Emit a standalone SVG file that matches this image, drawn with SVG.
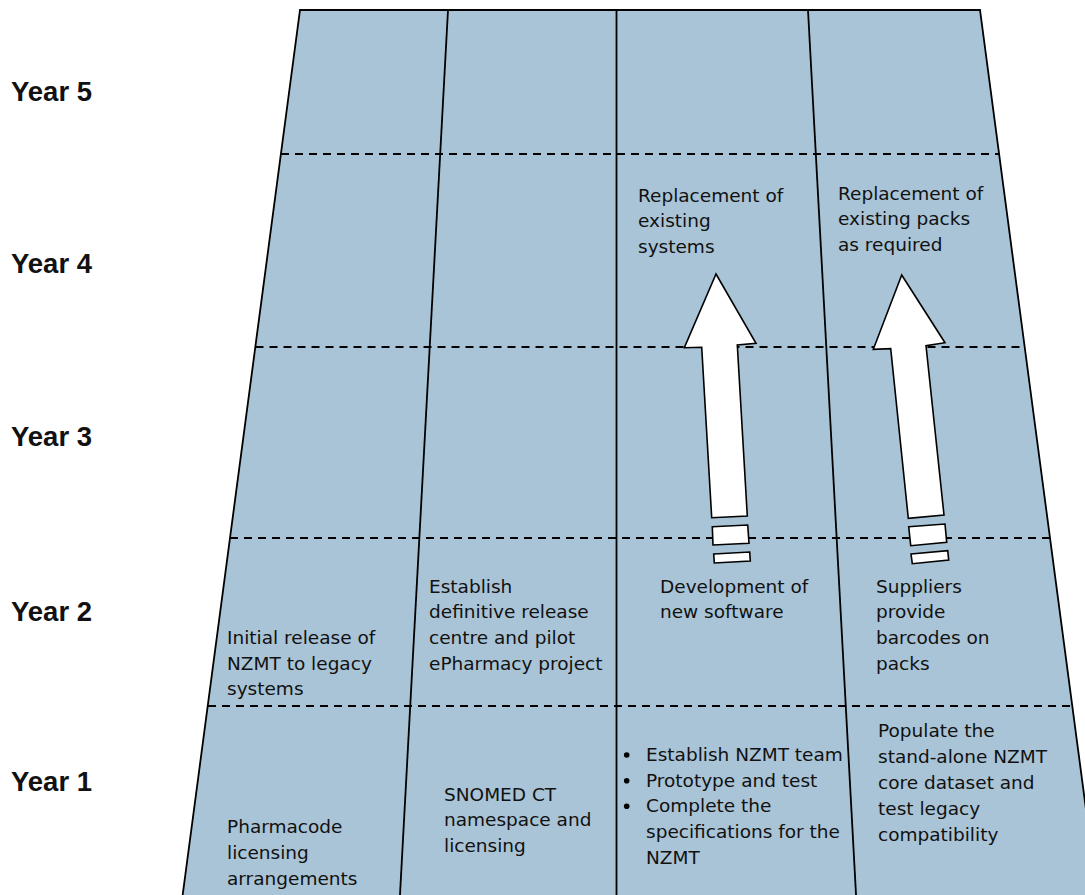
<svg xmlns="http://www.w3.org/2000/svg" width="1085" height="895" viewBox="0 0 1085 895">
<style>
.t{font-family:"DejaVu Sans","Liberation Sans",sans-serif;font-size:18.5px;fill:#111}
.y{font-family:"Liberation Sans",Arial,sans-serif;font-weight:bold;font-size:27.5px;fill:#111}
.ln{stroke:#000;stroke-width:1.8;fill:none}
.dash{stroke:#000;stroke-width:1.8;stroke-dasharray:8 6;fill:none}
.arr{fill:#fff;stroke:#000;stroke-width:1.6;stroke-linejoin:miter}
</style>
<rect width="1085" height="895" fill="#fff"/>
<g id="grid">
<polygon points="300,10 980,10 1098,900 182,900" fill="#A9C4D6" stroke="#000" stroke-width="1.8"/>
<line class="ln" x1="448" y1="10" x2="399.7" y2="900"/>
<line class="ln" x1="616.5" y1="10" x2="616.5" y2="900"/>
<line class="ln" x1="808" y1="10" x2="856.3" y2="900"/>
<line class="dash" x1="281" y1="154" x2="999" y2="154"/>
<line class="dash" x1="255.5" y1="347" x2="1024.5" y2="347"/>
<line class="dash" x1="230" y1="538" x2="1050" y2="538"/>
<line class="dash" x1="208" y1="706" x2="1072" y2="706"/>
</g>
<g id="years">
<text class="y" x="11" y="101">Year 5</text>
<text class="y" x="11" y="273">Year 4</text>
<text class="y" x="11" y="446">Year 3</text>
<text class="y" x="11" y="621">Year 2</text>
<text class="y" x="11" y="791">Year 1</text>
</g>
<g id="connectors">
<g id="arrow1">
<polygon class="arr" points="716,274 756,343.3 737.3,345 747.3,516 711.7,517.7 701.7,347.3 684.3,347.7"/>
<polygon class="arr" points="712.3,526.7 747.7,525 749,543.3 713,545"/>
<polygon class="arr" points="713.7,554 749.7,552 750.3,561 714.3,563"/>
</g>
<g id="arrow2">
<polygon class="arr" points="901.7,275 945,342.7 926,345.7 944,515 908.3,518.3 890.7,348.7 873.3,349.3"/>
<polygon class="arr" points="908.7,526.7 945,524 946.7,542.3 910.7,545.7"/>
<polygon class="arr" points="911,554 947.7,550.7 948.7,560 912.3,563.7"/>
</g>
</g>
<g id="n-replace-systems">
<text class="t" x="638" y="201.5">Replacement of</text>
<text class="t" x="638" y="227">existing</text>
<text class="t" x="638" y="252.5">systems</text>
</g>
<g id="n-replace-packs">
<text class="t" x="838" y="199.5">Replacement of</text>
<text class="t" x="838" y="225">existing packs</text>
<text class="t" x="838" y="250.5">as required</text>
</g>
<g id="n-initial-release">
<text class="t" x="227" y="644">Initial release of</text>
<text class="t" x="227" y="669.7">NZMT to legacy</text>
<text class="t" x="227" y="695.4">systems</text>
</g>
<g id="n-release-centre">
<text class="t" x="429" y="592.7">Establish</text>
<text class="t" x="429" y="618.4">definitive release</text>
<text class="t" x="429" y="644.1">centre and pilot</text>
<text class="t" x="429" y="669.8">ePharmacy project</text>
</g>
<g id="n-dev-software">
<text class="t" x="660" y="592.7">Development of</text>
<text class="t" x="660" y="618.4">new software</text>
</g>
<g id="n-suppliers">
<text class="t" x="876" y="592.7">Suppliers</text>
<text class="t" x="876" y="618.4">provide</text>
<text class="t" x="876" y="644.1">barcodes on</text>
<text class="t" x="876" y="669.8">packs</text>
</g>
<g id="n-pharmacode">
<text class="t" x="227" y="833.3">Pharmacode</text>
<text class="t" x="227" y="859">licensing</text>
<text class="t" x="227" y="884.5">arrangements</text>
</g>
<g id="n-snomed">
<text class="t" x="444" y="800.7">SNOMED CT</text>
<text class="t" x="444" y="826.4">namespace and</text>
<text class="t" x="444" y="852.1">licensing</text>
</g>
<g id="n-nzmt-team">
<circle cx="626.7" cy="755" r="2.8" fill="#000"/>
<circle cx="626.7" cy="780.7" r="2.8" fill="#000"/>
<circle cx="626.7" cy="806.3" r="2.8" fill="#000"/>
<text class="t" x="646" y="761">Establish NZMT team</text>
<text class="t" x="646" y="786.7">Prototype and test</text>
<text class="t" x="646" y="812.3">Complete the</text>
<text class="t" x="646" y="838">specifications for the</text>
<text class="t" x="646" y="863.6">NZMT</text>
</g>
<g id="n-populate">
<text class="t" x="878" y="736.7">Populate the</text>
<text class="t" x="878" y="762.7">stand-alone NZMT</text>
<text class="t" x="878" y="788.7">core dataset and</text>
<text class="t" x="878" y="814.7">test legacy</text>
<text class="t" x="878" y="840.5">compatibility</text>
</g>
</svg>
